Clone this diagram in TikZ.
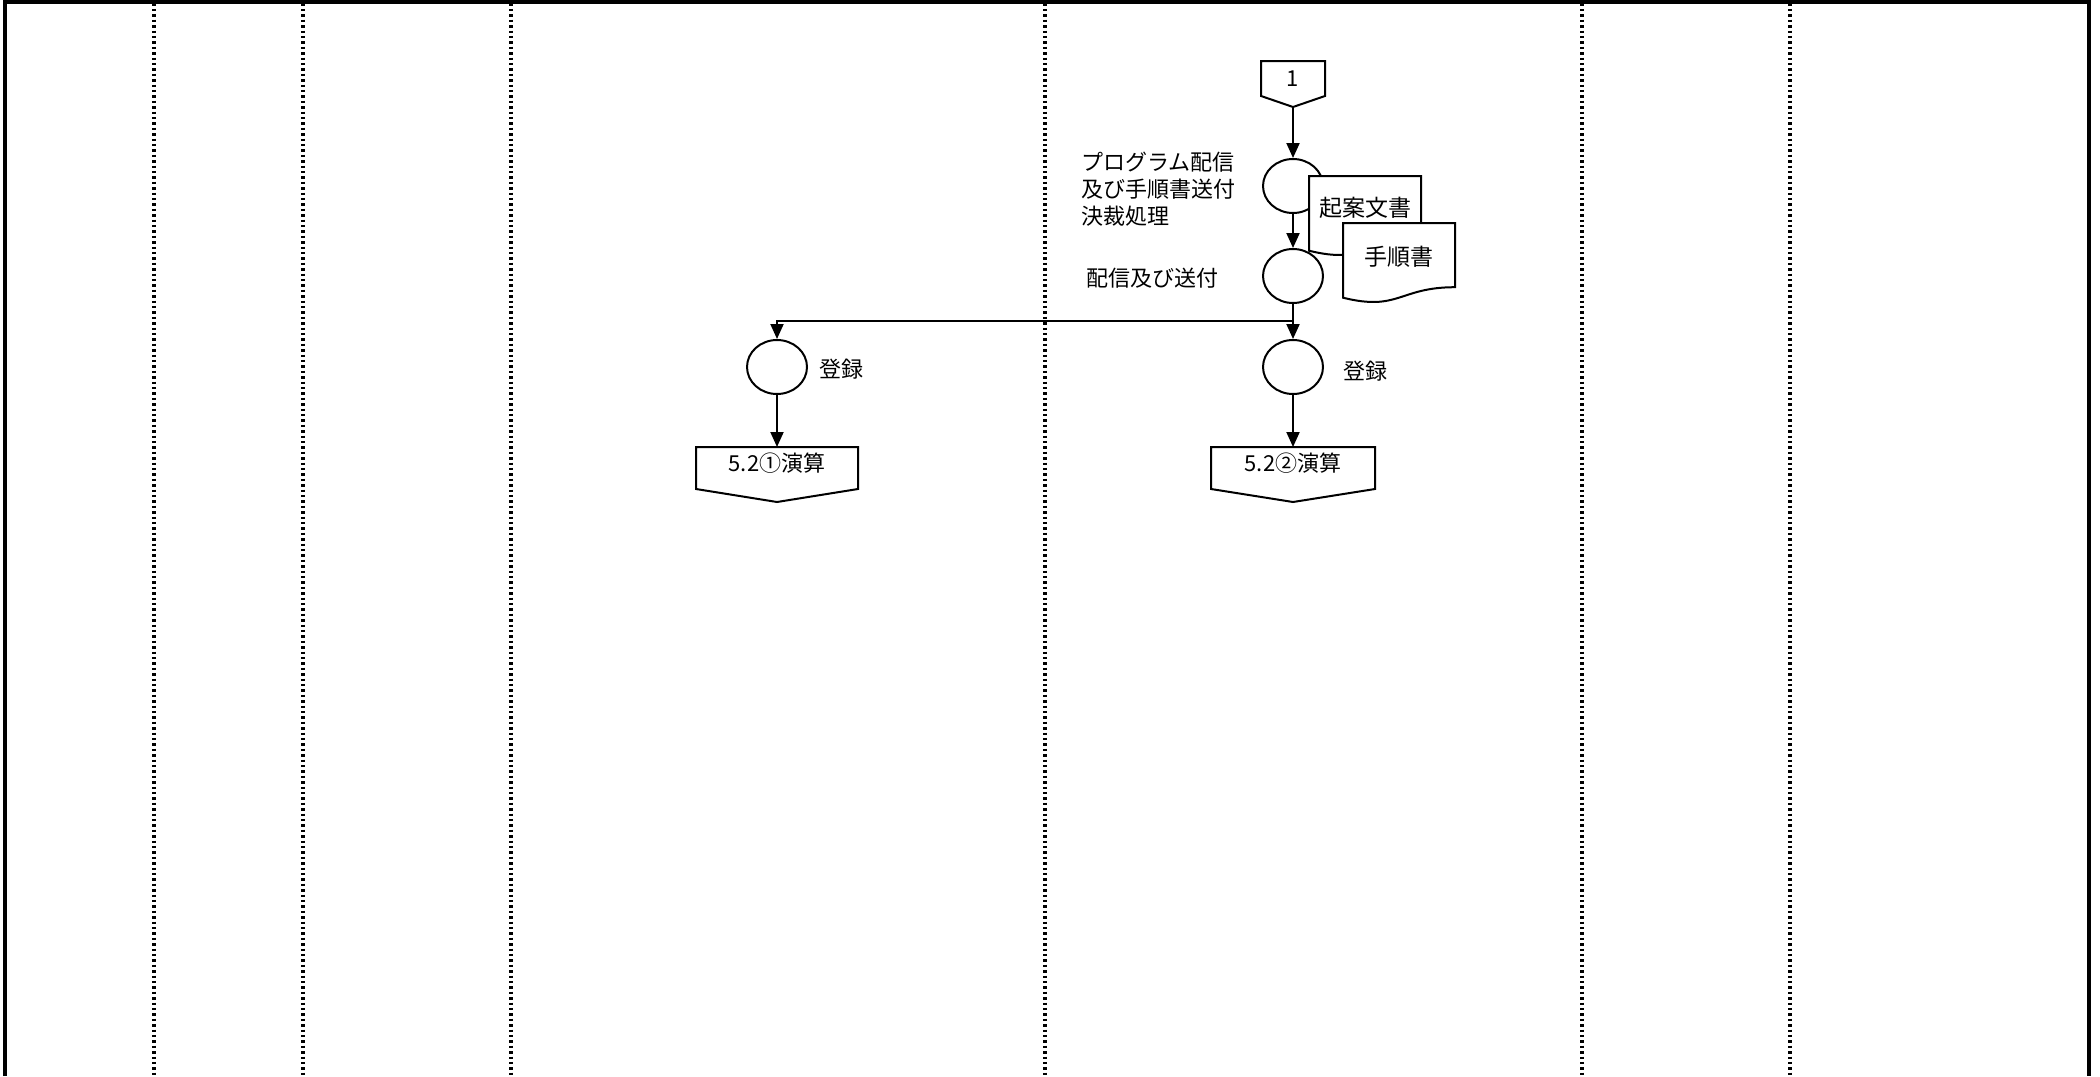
\documentclass[tikz,border=0pt]{standalone}
\usepackage{fontspec}
\setmainfont{Noto Sans CJK JP}
\usetikzlibrary{shapes.geometric,arrows.meta,calc}
\begin{document}
\begin{tikzpicture}[x=1pt,y=-1pt,
  font=\fontsize{22}{27}\selectfont,
  line width=2pt,
  arr/.style={-{Triangle[length=15pt,width=13pt]}, line width=2pt},
  proc/.style={ellipse, draw, line width=2pt, minimum width=60pt, minimum height=54pt, inner sep=0pt},
  lane/.style={line width=3.2pt, dash pattern=on 2.5pt off 2.9pt},
  frame/.style={line width=3.5pt, line join=miter},
  offp/.style={minimum width=#1, minimum height=40pt, inner sep=0pt, text height=19pt, text depth=13pt, anchor=north},
  topmark/.style={minimum width=62pt, minimum height=33pt, inner sep=0pt, anchor=north},
  lbl/.style={anchor=west, inner sep=0pt, align=left},
  docbody/.style={draw, fill=white, line width=2pt, line join=miter},
  doctext/.style={inner sep=0pt, font=\fontsize{23}{27}\selectfont}]
\useasboundingbox (0,0) rectangle (2100,1076);

% frame and lanes
\draw[frame] (5,1076) -- (5,1.75) -- (2089,1.75) -- (2089,1076);
\foreach \x in {154,303,511,1045,1582,1790}
  \draw[lane] (\x,3.5) -- (\x,1076);

% top off-page marker
\node[topmark] (m1) at (1293,61) {1};
\draw (m1.north west) -- (m1.north east) -- (m1.south east) -- ($(m1.south)+(0,11)$) -- (m1.south west) -- cycle;

% processes
\node[proc] (c1) at (1293,186) {};
\node[proc] (c2) at (1293,276) {};
\node[proc] (c3) at (777,367) {};
\node[proc] (c4) at (1293,367) {};

% documents
\begin{scope}[shift={(1309,176)}]
  \draw[docbody] (0,0) -- (112,0) -- (112,64.2) .. controls (56,64.2) and (56,88.6) .. (0,74.7) -- cycle;
\end{scope}
\node[doctext] (d1) at (1365,208) {起案文書};
\begin{scope}[shift={(1343,223)}]
  \draw[docbody] (0,0) -- (112,0) -- (112,64.2) .. controls (56,64.2) and (56,88.6) .. (0,74.7) -- cycle;
\end{scope}
\node[doctext] (d2) at (1399,257) {手順書};

% bottom off-page connectors
\node[offp=160pt] (o1) at (777,447) {5.2①演算};
\draw (o1.north west) -- (o1.north east) -- (o1.south east) -- ($(o1.south)+(0,13)$) -- (o1.south west) -- cycle;
\node[offp=162pt] (o2) at (1293,447) {5.2②演算};
\draw (o2.north west) -- (o2.north east) -- (o2.south east) -- ($(o2.south)+(0,13)$) -- (o2.south west) -- cycle;

% labels
\node[lbl] (l1) at (1080,189) {プログラム配信\\及び手順書送付\\決裁処理};
\node[lbl] (l2) at (1085,278) {配信及び送付};
\node[lbl] (l3) at (818,369) {登録};
\node[lbl] (l4) at (1342,371) {登録};

% connectors
\coordinate (br) at (1293,321);
\draw[arr] ($(m1.south)+(0,11)$) -- (c1.north);
\draw[arr] (c1.south) -- (c2.north);
\draw[arr] (c2.south) -- (c4.north);
\draw[arr] (br) -| (c3.north);
\draw[arr] (c3.south) -- (o1.north);
\draw[arr] (c4.south) -- (o2.north);
\end{tikzpicture}
\end{document}
